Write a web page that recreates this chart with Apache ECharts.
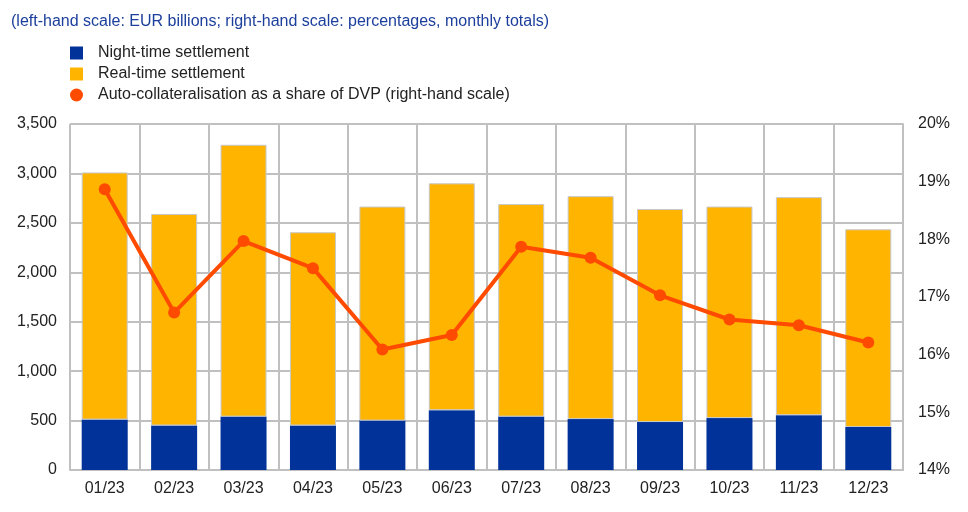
<!DOCTYPE html>
<html>
<head>
<meta charset="utf-8">
<script src="https://cdn.jsdelivr.net/npm/echarts@6/dist/echarts.min.js"></script>
<style>
  html, body { margin: 0; padding: 0; background: #fff; }
  #chart { width: 968px; height: 512px; }
</style>
</head>
<body>
<div id="chart"></div>
<script>
// months on the x axis
var months = ['01/23', '02/23', '03/23', '04/23', '05/23', '06/23', '07/23', '08/23', '09/23', '10/23', '11/23', '12/23'];
// EUR billions (left scale)
var nightTime = [510, 450, 540, 450, 500, 605, 540, 515, 485, 525, 555, 435];
var realTime = [2500, 2140, 2750, 1955, 2165, 2295, 2150, 2255, 2155, 2140, 2205, 2000];
// percentages (right scale)
var autoCollShare = [18.87, 16.73, 17.97, 17.50, 16.09, 16.34, 17.87, 17.68, 17.03, 16.61, 16.51, 16.21];

var chart = echarts.init(document.getElementById('chart'));
var fontFam = 'Liberation Sans, Arial, sans-serif';
var gridCol = '#c0c0c0';

var option = {
  animation: false,
  textStyle: { fontFamily: fontFam },
  title: {
    text: '(left-hand scale: EUR billions; right-hand scale: percentages, monthly totals)',
    left: 6, top: 9,
    textStyle: { color: '#1c3f9c', fontSize: 16, fontWeight: 'normal', fontFamily: fontFam }
  },
  legend: {
    orient: 'vertical',
    left: 65, top: 40,
    itemGap: 5,
    itemWidth: 13, itemHeight: 13,
    itemStyle: { borderWidth: 0 },
    textStyle: { color: '#222', fontSize: 16, fontFamily: fontFam, padding: [0, 0, 0, 10] },
    data: [
      { name: 'Night-time settlement', icon: 'rect' },
      { name: 'Real-time settlement', icon: 'rect' },
      { name: 'Auto-collateralisation as a share of DVP (right-hand scale)', icon: 'circle' }
    ]
  },
  grid: { left: 70, right: 65, top: 124, bottom: 42 },
  xAxis: {
    type: 'category',
    data: months,
    axisTick: { show: false },
    axisLine: { lineStyle: { color: gridCol, width: 2 } },
    axisLabel: { color: '#222', fontSize: 16, margin: 11 },
    splitLine: { show: true, lineStyle: { color: gridCol, width: 2 } }
  },
  yAxis: [
    {
      type: 'value', min: 0, max: 3500, interval: 500,
      axisLine: { show: false }, axisTick: { show: false },
      axisLabel: {
        color: '#222', fontSize: 16, margin: 13,
        formatter: function (v) { return v.toLocaleString('en-US'); }
      },
      splitLine: { lineStyle: { color: gridCol, width: 2 } }
    },
    {
      type: 'value', min: 14, max: 20, interval: 1,
      position: 'right',
      axisLine: { show: true, lineStyle: { color: gridCol, width: 2 } },
      axisTick: { show: false },
      axisLabel: { color: '#222', fontSize: 16, margin: 15, formatter: '{value}%' },
      splitLine: { show: false }
    }
  ],
  series: [
    {
      name: 'Night-time settlement', type: 'bar', stack: 'total',
      barWidth: 46,
      itemStyle: { color: '#003299' },
      data: nightTime
    },
    {
      name: 'Real-time settlement', type: 'bar', stack: 'total',
      barWidth: 46,
      itemStyle: { color: '#ffb400', borderColor: '#c8c8c8', borderWidth: 1 },
      data: realTime
    },
    {
      name: 'Auto-collateralisation as a share of DVP (right-hand scale)',
      type: 'line', yAxisIndex: 1,
      symbol: 'circle', symbolSize: 12,
      lineStyle: { color: '#ff4b00', width: 4 },
      itemStyle: { color: '#ff4b00' },
      data: autoCollShare
    }
  ]
};

chart.setOption(option);
window.addEventListener('resize', function () {
  chart.resize();
});
</script>
</body>
</html>
